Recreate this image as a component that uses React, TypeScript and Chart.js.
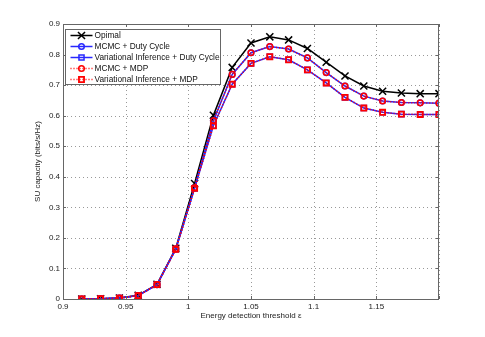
import React, { useEffect, useRef } from 'react';
import { Chart, registerables } from 'chart.js';

Chart.register(...registerables);

const xValues = [0.915, 0.93, 0.945, 0.96, 0.975, 0.99, 1.005, 1.02, 1.035, 1.05, 1.065, 1.08, 1.095, 1.11, 1.125, 1.14, 1.155, 1.17, 1.185, 1.2];
const opimal = [0, 0.001, 0.003, 0.012, 0.048, 0.166, 0.378, 0.601, 0.758, 0.838, 0.858, 0.848, 0.82, 0.775, 0.73, 0.697, 0.68, 0.674, 0.672, 0.672];
const mcmcDuty = [0, 0.001, 0.003, 0.011, 0.047, 0.164, 0.364, 0.583, 0.735, 0.806, 0.826, 0.818, 0.789, 0.741, 0.697, 0.664, 0.648, 0.643, 0.642, 0.641];
const viDuty = [0, 0.001, 0.003, 0.011, 0.047, 0.163, 0.362, 0.567, 0.703, 0.771, 0.793, 0.783, 0.75, 0.707, 0.66, 0.625, 0.611, 0.605, 0.604, 0.604];
const mcmcMdp = [0, 0.001, 0.003, 0.011, 0.047, 0.164, 0.364, 0.583, 0.735, 0.806, 0.826, 0.818, 0.789, 0.741, 0.697, 0.664, 0.648, 0.643, 0.642, 0.641];
const viMdp = [0, 0.001, 0.003, 0.011, 0.047, 0.163, 0.362, 0.567, 0.703, 0.771, 0.793, 0.783, 0.75, 0.707, 0.66, 0.625, 0.611, 0.605, 0.604, 0.604];

const seriesNames = ['Opimal', 'MCMC + Duty Cycle', 'Variational Inference + Duty Cycle', 'MCMC + MDP', 'Variational Inference + MDP'];

const xTickValues = [0.9, 0.95, 1, 1.05, 1.1, 1.15, 1.2];
const xTickLabels = ['0.9', '0.95', '1', '1.05', '1.1', '1.15', ''];
const yTickValues = [0, 0.1, 0.2, 0.3, 0.4, 0.5, 0.6, 0.7, 0.8, 0.9];
const yTickLabels = ['0', '0.1', '0.2', '0.3', '0.4', '0.5', '0.6', '0.7', '0.8', '0.9'];

const xTitle = 'Energy detection threshold \u03b5';
const yTitle = 'SU capacity (bits/s/Hz)';

const BLUE = 'rgb(40,40,255)';
const RED = 'rgb(255,0,0)';
const FRAME = '#666';
const GRID = '#999';
const FONT = "'Liberation Sans', Arial, Helvetica, sans-serif";

function drawMarker(ctx: CanvasRenderingContext2D, style: string, x: number, y: number, r: number) {
  ctx.beginPath();
  if (style === 'crossRot') {
    const o = Math.SQRT1_2 * r;
    ctx.moveTo(x - o, y - o);
    ctx.lineTo(x + o, y + o);
    ctx.moveTo(x - o, y + o);
    ctx.lineTo(x + o, y - o);
  } else if (style === 'circle') {
    ctx.arc(x, y, r, 0, Math.PI * 2);
  } else if (style === 'rect') {
    const s = Math.SQRT1_2 * r;
    ctx.rect(x - s, y - s, 2 * s, 2 * s);
  }
  ctx.stroke();
}

const gridPlugin = {
  id: 'dottedGrid',
  beforeDatasetsDraw(chart: any) {
    const ctx: CanvasRenderingContext2D = chart.ctx;
    const ca = chart.chartArea;
    const xs = chart.scales.x;
    const ys = chart.scales.y;
    ctx.save();
    ctx.strokeStyle = GRID;
    ctx.lineWidth = 1;
    ctx.setLineDash([1, 3]);
    ctx.beginPath();
    xTickValues.forEach((v) => {
      const px = Math.round(xs.getPixelForValue(v)) + 0.5;
      ctx.moveTo(px, ca.bottom);
      ctx.lineTo(px, ca.top);
    });
    yTickValues.forEach((v) => {
      const py = Math.round(ys.getPixelForValue(v)) + 0.5;
      ctx.moveTo(ca.left, py);
      ctx.lineTo(ca.right, py);
    });
    ctx.stroke();
    ctx.restore();
  },
};

const framePlugin = {
  id: 'frameAndLegend',
  afterDatasetsDraw(chart: any) {
    const ctx: CanvasRenderingContext2D = chart.ctx;
    const ca = chart.chartArea;
    ctx.save();
    ctx.strokeStyle = FRAME;
    ctx.lineWidth = 1;
    ctx.setLineDash([]);
    ctx.strokeRect(Math.round(ca.left) + 0.5, Math.round(ca.top) + 0.5, Math.round(ca.right - ca.left) - 1, Math.round(ca.bottom - ca.top));
    const xs = chart.scales.x;
    const ys = chart.scales.y;
    const tl = 3;
    ctx.beginPath();
    xTickValues.forEach((v) => {
      const px = Math.round(xs.getPixelForValue(v)) + 0.5;
      ctx.moveTo(px, ca.bottom);
      ctx.lineTo(px, ca.bottom - tl);
      ctx.moveTo(px, ca.top);
      ctx.lineTo(px, ca.top + tl);
    });
    yTickValues.forEach((v) => {
      const py = Math.round(ys.getPixelForValue(v)) + 0.5;
      ctx.moveTo(ca.left, py);
      ctx.lineTo(ca.left + tl, py);
      ctx.moveTo(ca.right, py);
      ctx.lineTo(ca.right - tl, py);
    });
    ctx.stroke();

    // legend
    const bx = Math.round(ca.left) + 2.5;
    const by = Math.round(ca.top) + 5.5;
    const bw = 155;
    const bh = 55;
    ctx.fillStyle = '#fff';
    ctx.fillRect(bx, by, bw, bh);
    ctx.strokeStyle = FRAME;
    ctx.strokeRect(bx, by, bw, bh);
    ctx.font = `8.3px ${FONT}`;
    ctx.textBaseline = 'middle';
    ctx.textAlign = 'left';
    chart.data.datasets.forEach((ds: any, i: number) => {
      const cy = by + 6 + i * 11;
      ctx.strokeStyle = ds.borderColor;
      ctx.lineWidth = ds.borderWidth;
      ctx.setLineDash(ds.borderDash || []);
      ctx.beginPath();
      ctx.moveTo(bx + 5, cy);
      ctx.lineTo(bx + 27, cy);
      ctx.stroke();
      ctx.setLineDash([]);
      ctx.strokeStyle = ds.pointBorderColor;
      ctx.lineWidth = ds.pointBorderWidth;
      drawMarker(ctx, ds.pointStyle, bx + 16, cy, ds.pointRadius);
      ctx.fillStyle = '#111';
      ctx.fillText(ds.label, bx + 29, cy + 0.5);
    });
    ctx.restore();
  },
};

export default function App() {
  const ref = useRef<HTMLCanvasElement | null>(null);

  useEffect(() => {
    if (!ref.current) return;
    Chart.defaults.font.family = FONT;
    Chart.defaults.font.size = 8;
    Chart.defaults.color = '#222';

    const mk = (arr: number[]) => xValues.map((x, i) => ({ x, y: arr[i] }));
    const datasets: any[] = [
      {
        label: seriesNames[0], data: mk(opimal), borderColor: '#000', borderWidth: 1.5,
        pointStyle: 'crossRot', pointRadius: 5, pointBorderColor: '#000', pointBorderWidth: 1.5,
        pointBackgroundColor: 'transparent', order: 2,
      },
      {
        label: seriesNames[1], data: mk(mcmcDuty), borderColor: BLUE, borderWidth: 1.5,
        pointStyle: 'circle', pointRadius: 2.8, pointBorderColor: BLUE, pointBorderWidth: 1.5,
        pointBackgroundColor: 'transparent', order: 1,
      },
      {
        label: seriesNames[2], data: mk(viDuty), borderColor: BLUE, borderWidth: 1.5,
        pointStyle: 'rect', pointRadius: 3.6, pointBorderColor: BLUE, pointBorderWidth: 1.5,
        pointBackgroundColor: 'transparent', order: 1,
      },
      {
        label: seriesNames[3], data: mk(mcmcMdp), borderColor: RED, borderWidth: 1.5, borderDash: [1, 2],
        pointStyle: 'circle', pointRadius: 2.8, pointBorderColor: RED, pointBorderWidth: 1.5,
        pointBackgroundColor: 'transparent', order: 0,
      },
      {
        label: seriesNames[4], data: mk(viMdp), borderColor: RED, borderWidth: 1.5, borderDash: [1, 2],
        pointStyle: 'rect', pointRadius: 3.6, pointBorderColor: RED, pointBorderWidth: 1.8,
        pointBackgroundColor: 'transparent', order: 0,
      },
    ];

    const chart = new Chart(ref.current, {
      type: 'line',
      data: { datasets },
      plugins: [gridPlugin, framePlugin],
      options: {
        animation: false,
        responsive: false,
        devicePixelRatio: 1,
        layout: { padding: { left: 0, top: 24, right: 46, bottom: 0 } },
        plugins: { legend: { display: false }, tooltip: { enabled: false } },
        elements: { line: { tension: 0 } },
        scales: {
          x: {
            type: 'linear', min: 0.9, max: 1.2,
            afterBuildTicks: (s: any) => { s.ticks = xTickValues.map((v) => ({ value: v })); },
            afterFit: (s: any) => { s.height = 38; },
            ticks: {
              autoSkip: false, maxRotation: 0, padding: 3, color: '#222',
              callback: (_v: any, i: number) => xTickLabels[i],
            },
            grid: { display: false, drawTicks: false },
            border: { display: false },
            title: { display: true, text: xTitle, color: '#222', font: { size: 8 }, padding: { top: 0, bottom: 16 } },
          },
          y: {
            type: 'linear', min: 0, max: 0.9,
            afterBuildTicks: (s: any) => { s.ticks = yTickValues.map((v) => ({ value: v })); },
            afterFit: (s: any) => { s.width = 63; },
            ticks: {
              autoSkip: false, padding: 3, color: '#222',
              callback: (_v: any, i: number) => yTickLabels[i],
            },
            grid: { display: false, drawTicks: false },
            border: { display: false },
            title: { display: true, text: yTitle, color: '#222', font: { size: 8 }, padding: { top: 33, bottom: 0 } },
          },
        },
      } as any,
    });
    return () => chart.destroy();
  }, []);

  return (
    <div style={{ position: 'absolute', left: 0, top: 0, width: 485, height: 337, background: '#fff' }}>
      <canvas ref={ref} width={485} height={337} style={{ display: 'block' }} />
    </div>
  );
}
